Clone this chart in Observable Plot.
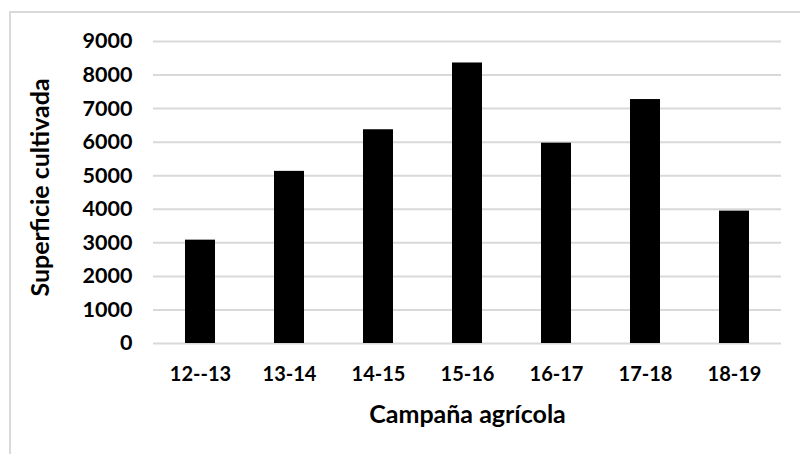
<!DOCTYPE html>
<html>
<head>
<meta charset="utf-8">
<script src="https://cdn.jsdelivr.net/npm/d3@7"></script>
<script src="https://cdn.jsdelivr.net/npm/@observablehq/plot@0.6"></script>
<style>
  html, body { margin: 0; padding: 0; background: #fff; overflow: hidden; }
  #wrap { position: relative; width: 800px; height: 454px; }
  #frame { position: absolute; left: 9px; top: 11px; width: 800px; height: 500px;
           border-left: 2px solid #d9d9d9; border-top: 2px solid #d9d9d9; box-sizing: border-box; }
  #chart { position: absolute; left: 0; top: 0; }
  svg { font-family: Lato, "Open Sans", sans-serif; }
</style>
</head>
<body>
<div id="wrap"><div id="frame"></div><div id="chart"></div></div>
<script>
const campaigns = ["12--13", "13-14", "14-15", "15-16", "16-17", "17-18", "18-19"];
const surface = [3080, 5130, 6370, 8360, 5970, 7270, 3945];
const yTicks = [0, 1000, 2000, 3000, 4000, 5000, 6000, 7000, 8000, 9000];
const xTitle = "Campaña agrícola";
const yTitle = "Superficie cultivada";

const data = campaigns.map((c, i) => ({campaign: c, value: surface[i]}));

const chart = Plot.plot({
  width: 800,
  height: 454,
  marginLeft: 153,
  marginRight: 19,
  marginTop: 41,
  marginBottom: 111,
  style: {fontFamily: "Lato, 'Open Sans', sans-serif", background: "transparent"},
  x: {domain: campaigns, paddingInner: 0.665, paddingOuter: 0.335, label: null},
  y: {domain: [0, 9000], label: null},
  marks: [
    Plot.gridY(yTicks, {stroke: "#d9d9d9", strokeOpacity: 1, strokeWidth: 2}),
    Plot.barY(data, {x: "campaign", y: "value", fill: "#000"}),
    Plot.axisY(yTicks, {tickSize: 0, tickPadding: 21, tickFormat: d => String(d), fontSize: 21.5, fontWeight: "bold", fill: "#000", label: null}),
    Plot.axisX({tickSize: 0, tickPadding: 23, fontSize: 20, fontWeight: "bold", fill: "#000", label: null}),
    Plot.text([xTitle], {frameAnchor: "bottom", dy: 79, fontSize: 25, fontWeight: "bold", fill: "#000"}),
    Plot.text([yTitle], {frameAnchor: "left", textAnchor: "middle", dx: -113, dy: -5, rotate: -90, fontSize: 25, fontWeight: "bold", fill: "#000"})
  ]
});
document.getElementById("chart").appendChild(chart);
</script>
</body>
</html>
